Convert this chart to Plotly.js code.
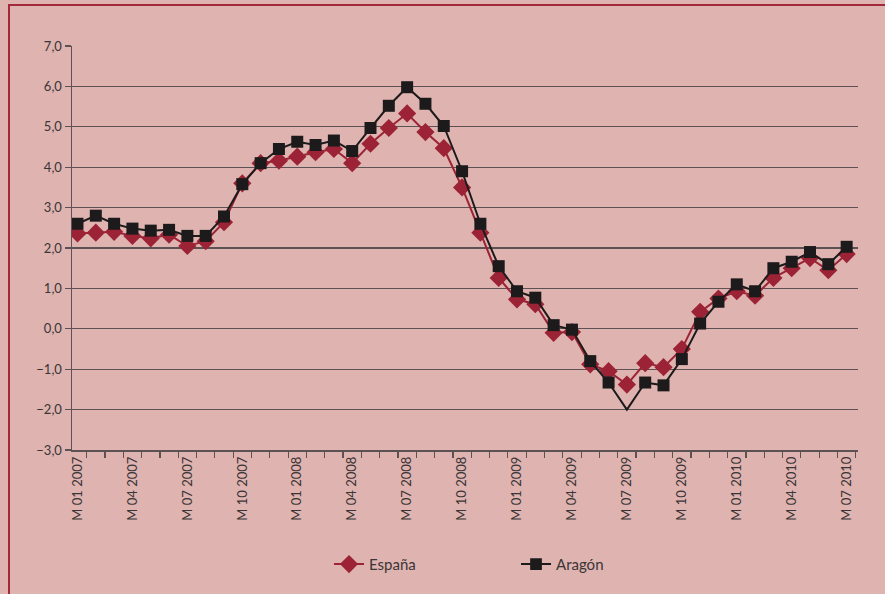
<!DOCTYPE html>
<html>
<head>
<meta charset="utf-8">
<script src="https://cdn.plot.ly/plotly-3.0.1.min.js"></script>
<style>
  html, body { margin:0; padding:0; width:885px; height:594px; overflow:hidden; background:#dfb3b0; }
  #frame { position:absolute; left:8px; top:4px; width:877px; height:590px;
           border-left:2px solid #a3283a; border-top:2px solid #a3283a; }
  #chart { position:absolute; left:0; top:0; width:875px; height:588px; }
</style>
</head>
<body>
<div id="frame"><div id="chart"></div></div>
<script>
// Months M01 2007 ... M07 2010
const months = [
  "M 01 2007","M 02 2007","M 03 2007","M 04 2007","M 05 2007","M 06 2007","M 07 2007","M 08 2007","M 09 2007","M 10 2007","M 11 2007","M 12 2007",
  "M 01 2008","M 02 2008","M 03 2008","M 04 2008","M 05 2008","M 06 2008","M 07 2008","M 08 2008","M 09 2008","M 10 2008","M 11 2008","M 12 2008",
  "M 01 2009","M 02 2009","M 03 2009","M 04 2009","M 05 2009","M 06 2009","M 07 2009","M 08 2009","M 09 2009","M 10 2009","M 11 2009","M 12 2009",
  "M 01 2010","M 02 2010","M 03 2010","M 04 2010","M 05 2010","M 06 2010","M 07 2010"
];
const espana = [
  2.36, 2.38, 2.40, 2.30, 2.24, 2.33, 2.05, 2.17, 2.64, 3.60, 4.10, 4.16,
  4.26, 4.37, 4.45, 4.10, 4.58, 4.97, 5.33, 4.87, 4.47, 3.50, 2.38, 1.26,
  0.73, 0.61, -0.10, -0.08, -0.88, -1.05, -1.38, -0.85, -0.95, -0.50, 0.42, 0.75,
  0.93, 0.82, 1.26, 1.50, 1.75, 1.45, 1.85
];
const aragon = [
  2.60, 2.80, 2.60, 2.48, 2.43, 2.45, 2.30, 2.30, 2.78, 3.58, 4.10, 4.45,
  4.63, 4.55, 4.66, 4.40, 4.97, 5.52, 5.98, 5.57, 5.02, 3.90, 2.60, 1.55,
  0.93, 0.77, 0.09, -0.02, -0.80, -1.33, -2.00, -1.33, -1.40, -0.75, 0.13, 0.67,
  1.10, 0.93, 1.50, 1.66, 1.90, 1.60, 2.03
];
const yTickVals = [-3, -2, -1, 0, 1, 2, 3, 4, 5, 6, 7];
const seriesNames = ["España", "Aragón"];

const idx = months.map((m, i) => i);
const labelIdx = idx.filter(i => i % 3 === 0);
const labelText = labelIdx.map(i => months[i]);
const aragonNoMarkerIdx = 30; // reference draws no marker at the minimum
const aragonSizes = idx.map(i => i === aragonNoMarkerIdx ? 0 : 12);

const red = "#9b2335", black = "#1c1a1b", grid = "#5c5253", txt = "#3a3536";
const fontFam = "Lato, 'Noto Sans', sans-serif";

const traces = [
  { x: idx, y: espana, name: seriesNames[0], type: "scatter", mode: "lines+markers",
    line: { color: red, width: 2 },
    marker: { symbol: "diamond", size: 14, color: red, opacity: 1, line: { width: 0 } } },
  { x: idx, y: aragon, name: seriesNames[1], type: "scatter", mode: "lines+markers",
    line: { color: black, width: 2 },
    marker: { symbol: "square", size: aragonSizes, color: black, opacity: 1, line: { width: 0 } } }
];

const layout = {
  width: 875, height: 588,
  margin: { l: 62, r: 27, t: 40, b: 144 },
  paper_bgcolor: "#dfb3b0", plot_bgcolor: "#dfb3b0",
  font: { family: fontFam, size: 12, color: txt },
  showlegend: true,
  legend: { orientation: "h", x: 0.327, xanchor: "left", y: -0.283, yanchor: "middle",
            entrywidth: 142, entrywidthmode: "pixels",
            font: { family: fontFam, size: 15, color: txt }, bgcolor: "rgba(0,0,0,0)" },
  xaxis: {
    range: [-0.3, 42.62], tickmode: "array", tickvals: labelIdx, ticktext: labelText,
    tickangle: -90, ticks: "", showgrid: false, zeroline: false,
    showline: true, linecolor: grid, linewidth: 1.5,
    tickfont: { family: fontFam, size: 13, color: txt },
    minor: { ticks: "outside", ticklen: 6, tickcolor: grid, tickwidth: 1.2,
             tickmode: "linear", tick0: 0.5, dtick: 1, showgrid: false }
  },
  yaxis: {
    range: [-3, 7], tickmode: "array", tickvals: yTickVals,
    tickformat: ".1f", ticks: "outside", ticklen: 6, tickcolor: grid, tickwidth: 1.2,
    showgrid: true, gridcolor: grid, gridwidth: 1.3, zeroline: false,
    showline: true, linecolor: grid, linewidth: 1.5,
    tickfont: { family: fontFam, size: 13, color: txt }
  },
  separators: ",."
};

Plotly.newPlot("chart", traces, layout, { displayModeBar: false, staticPlot: true });
</script>
</body>
</html>
